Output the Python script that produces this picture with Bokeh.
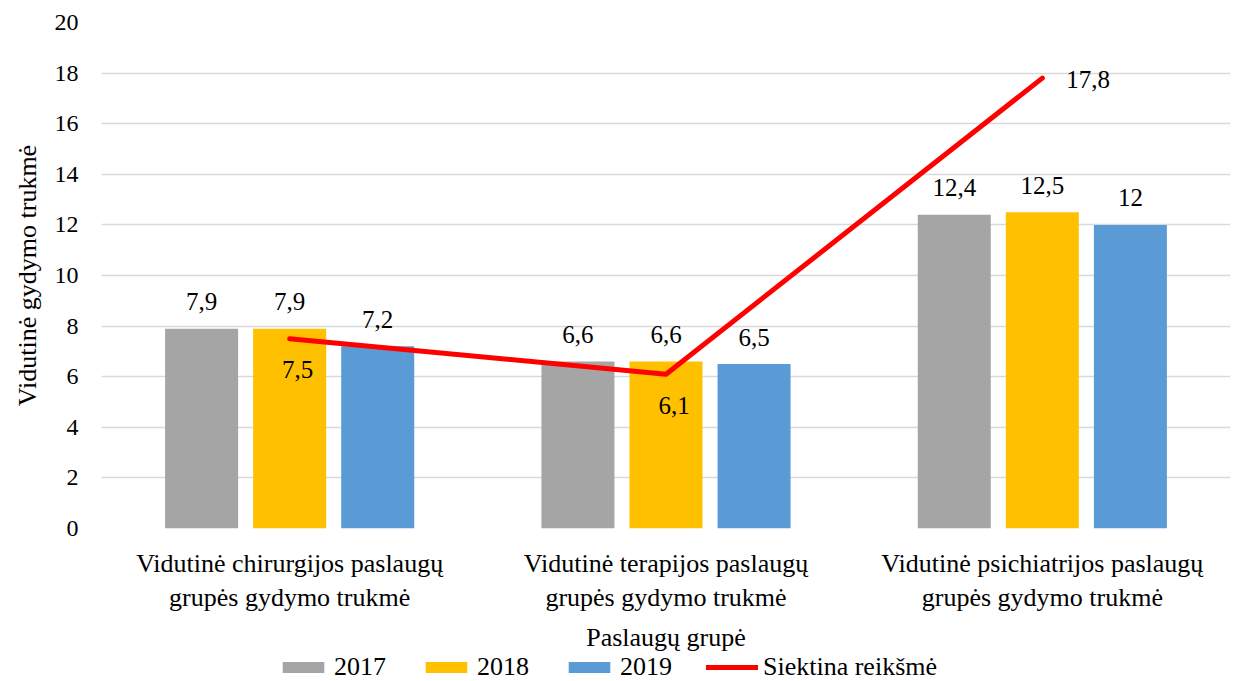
from bokeh.plotting import figure
from bokeh.layouts import column
from bokeh.models import ColumnDataSource, FixedTicker, Legend, LegendItem, Range1d
from bokeh.core.properties import value
from bokeh.embed import file_html
from bokeh.resources import INLINE

categories = [
    "Vidutinė chirurgijos paslaugų\ngrupės gydymo trukmė",
    "Vidutinė terapijos paslaugų\ngrupės gydymo trukmė",
    "Vidutinė psichiatrijos paslaugų\ngrupės gydymo trukmė",
]
years = ["2017", "2018", "2019"]
v2017 = [7.9, 6.6, 12.4]
v2018 = [7.9, 6.6, 12.5]
v2019 = [7.2, 6.5, 12.0]
target = [7.5, 6.1, 17.8]
target_name = "Siektina reikšmė"
y_ticks = [0, 2, 4, 6, 8, 10, 12, 14, 16, 18, 20]
x_title = "Paslaugų grupė"
y_title = "Vidutinė gydymo trukmė"

colors = ["#A5A5A5", "#FFC000", "#5B9BD5"]
RED = "#FF0000"
FONT = "Liberation Serif"
FS_TICK = "24px"
FS_CAT = "26px"
FS_LAB = "25px"

def fmt(v):
    return f"{v:g}".replace(".", ",")

centers = [i + 0.5 for i in range(len(categories))]
bar_w = 0.194
step = 0.234

p = figure(
    frame_width=1129, frame_height=506,
    x_range=Range1d(0, 3), y_range=Range1d(0, 20),
    output_backend="svg", toolbar_location=None,
    min_border_left=101, min_border_right=2, min_border_top=22, min_border_bottom=0,
)
p.outline_line_color = None
p.background_fill_color = "white"
p.border_fill_color = "white"

p.yaxis.ticker = FixedTicker(ticks=y_ticks)
p.yaxis.axis_line_color = None
p.yaxis.major_tick_line_color = None
p.yaxis.minor_tick_line_color = None
p.yaxis.major_tick_out = 0
p.yaxis.major_tick_in = 0
p.yaxis.major_label_text_font = FONT
p.yaxis.major_label_text_font_size = FS_TICK
p.yaxis.major_label_text_color = "black"
p.yaxis.major_label_standoff = 23
p.yaxis.axis_label = y_title
p.yaxis.axis_label_text_font = FONT
p.yaxis.axis_label_text_font_size = FS_CAT
p.yaxis.axis_label_text_font_style = "normal"
p.yaxis.axis_label_text_color = "black"
p.yaxis.axis_label_standoff = 10

p.xaxis.ticker = FixedTicker(ticks=centers)
p.xaxis.major_label_overrides = {c: lab for c, lab in zip(centers, categories)}
p.xaxis.axis_line_color = None
p.xaxis.major_tick_line_color = None
p.xaxis.minor_tick_line_color = None
p.xaxis.major_tick_out = 0
p.xaxis.major_tick_in = 0
p.xaxis.major_label_text_font = FONT
p.xaxis.major_label_text_font_size = FS_CAT
p.xaxis.major_label_text_color = "black"
p.xaxis.major_label_standoff = 20
p.xaxis.axis_label = x_title
p.xaxis.axis_label_text_font = FONT
p.xaxis.axis_label_text_font_size = FS_CAT
p.xaxis.axis_label_text_font_style = "normal"
p.xaxis.axis_label_text_color = "black"
p.xaxis.axis_label_standoff = 8

p.xgrid.grid_line_color = None
p.ygrid.ticker = FixedTicker(ticks=y_ticks)
p.ygrid.grid_line_color = "#D9D9D9"
p.ygrid.grid_line_width = 1.3

series = [v2017, v2018, v2019]
bar_sources = []
for k, (yr, vals, col) in enumerate(zip(years, series, colors)):
    xs = [c + (k - 1) * step for c in centers]
    src = ColumnDataSource(dict(x=xs, top=vals, lab=[fmt(v) for v in vals]))
    bar_sources.append(src)
    p.vbar(x="x", top="top", width=bar_w, bottom=0, source=src,
           fill_color=col, line_color=None)
    p.text(x="x", y="top", text="lab", source=src, text_align="center",
           text_baseline="middle", y_offset=-27, text_font=value(FONT),
           text_font_size=FS_LAB, text_color="black")

tsrc = ColumnDataSource(dict(x=centers, y=target))
p.line(x="x", y="y", source=tsrc, line_color=RED, line_width=5,
       line_cap="round", line_join="round")

low = ColumnDataSource(dict(x=centers[:2], y=target[:2], lab=[fmt(v) for v in target[:2]]))
p.text(x="x", y="y", text="lab", source=low, text_align="center",
       text_baseline="middle", x_offset=8, y_offset=31, text_font=value(FONT),
       text_font_size=FS_LAB, text_color="black")
hi = ColumnDataSource(dict(x=centers[2:], y=target[2:], lab=[fmt(v) for v in target[2:]]))
p.text(x="x", y="y", text="lab", source=hi, text_align="left",
       text_baseline="middle", x_offset=24, y_offset=1, text_font=value(FONT),
       text_font_size=FS_LAB, text_color="black")

# legend strip below the chart (its view range lies far from the data, so only the legend shows)
lg = figure(width=1232, height=31, x_range=Range1d(100, 101), y_range=Range1d(100, 101),
            output_backend="svg", toolbar_location=None, min_border=0)
lg.axis.visible = False
lg.grid.visible = False
lg.outline_line_color = None
lg.background_fill_color = "white"
lg.border_fill_color = "white"

items = []
for yr, col, src in zip(years, colors, bar_sources):
    r = lg.vbar(x="x", top="top", width=bar_w, bottom=0, source=src,
                fill_color=col, line_color=None)
    items.append(LegendItem(label=yr, renderers=[r]))
rl = lg.line(x="x", y="y", source=tsrc, line_color=RED, line_width=5, line_cap="round")
items.append(LegendItem(label=target_name, renderers=[rl]))

legend = Legend(items=items, orientation="horizontal", location=(176, 4),
                glyph_width=52, glyph_height=14, label_standoff=5, spacing=34,
                label_text_font=FONT, label_text_font_size=FS_CAT,
                label_text_color="black", border_line_color=None,
                background_fill_alpha=0, margin=0, padding=0, label_height=20)
lg.add_layout(legend)

layout = column(p, lg, spacing=0)
open("out.html", "w").write(file_html(layout, INLINE))
